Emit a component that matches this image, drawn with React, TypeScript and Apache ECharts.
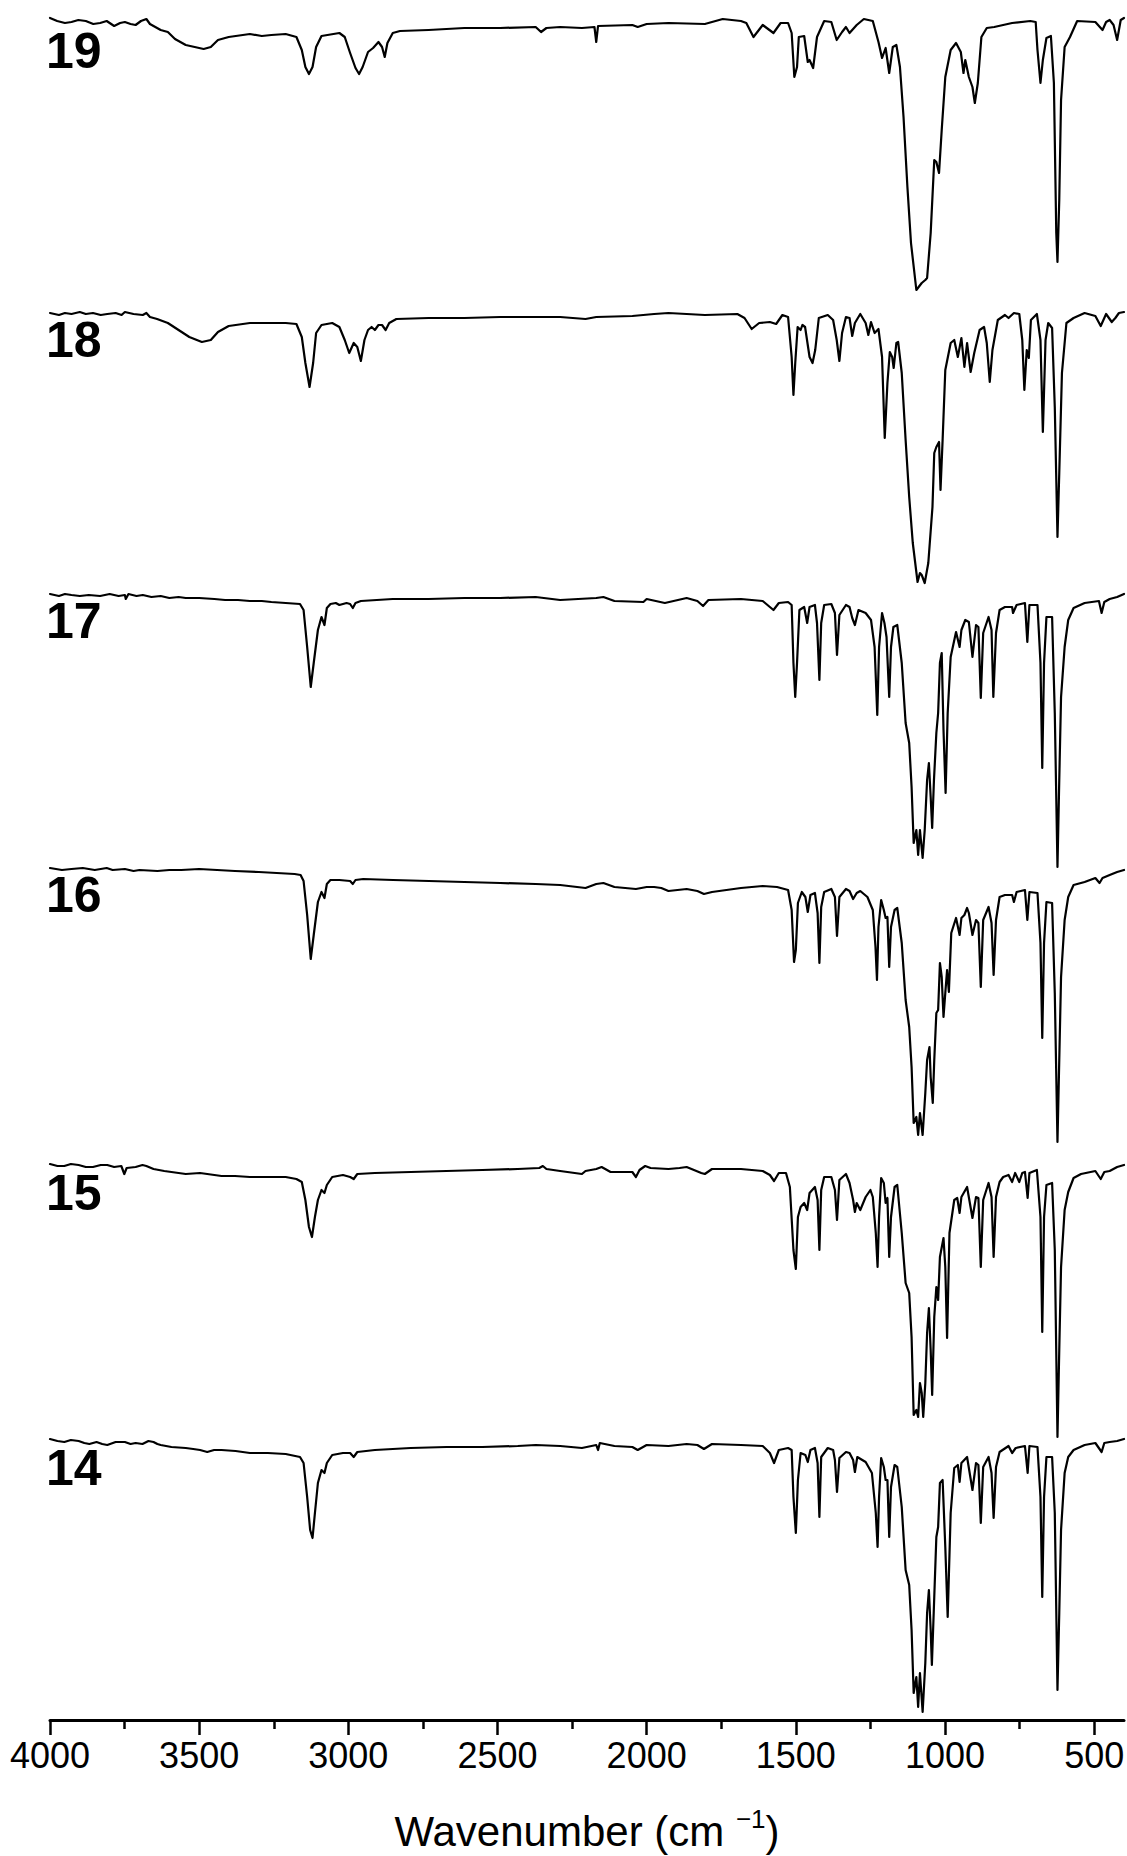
import React, { useEffect, useRef } from 'react';
import * as echarts from 'echarts';

// IR spectra (arbitrary transmittance units, baseline ~280)
const spectrumLabels = ['19', '18', '17', '16', '15', '14'];
const offsets = [1420, 1130, 840, 560, 270, -10];

const s19: [number, number][] = [
  [4000,282],[3976,279],[3950,277],[3928,278],[3905,280],[3880,279],[3855,276],[3832,277],[3810,279],[3785,274],[3765,277],[3749,278],[3730,276],[3713,275],[3695,279],[3677,281],[3665,276],[3653,274],[3629,270],[3605,268],[3581,261],[3545,255],[3515,253],[3485,251],[3461,253],[3437,260],[3401,263],[3330,266],[3290,264],[3258,265],[3210,266],[3174,263],[3156,250],[3144,233],[3132,226],[3120,233],[3108,253],[3090,264],[3030,267],[3012,263],[2994,247],[2976,232],[2964,226],[2952,233],[2934,248],[2917,252],[2899,258],[2887,253],[2878,243],[2869,257],[2851,267],[2827,269],[2731,270],[2611,272],[2491,272],[2372,273],[2354,268],[2336,272],[2290,273],[2217,272],[2175,273],[2169,258],[2163,274],[2048,275],[2030,273],[2000,276],[1927,277],[1805,276],[1769,279],[1745,281],[1684,279],[1666,277],[1642,263],[1611,275],[1575,267],[1551,277],[1526,277],[1514,267],[1505,223],[1496,233],[1490,263],[1472,264],[1460,238],[1454,240],[1442,232],[1429,263],[1405,279],[1381,278],[1363,260],[1345,268],[1332,273],[1320,267],[1296,275],[1272,281],[1242,279],[1223,258],[1211,242],[1199,252],[1187,227],[1175,253],[1163,255],[1151,233],[1139,183],[1126,113],[1114,57],[1096,10],[1078,17],[1066,20],[1060,22],[1048,67],[1036,140],[1029,138],[1020,127],[1011,170],[999,223],[981,250],[963,257],[947,248],[938,227],[932,240],[920,223],[908,213],[900,197],[890,217],[878,263],[860,272],[835,273],[775,277],[714,279],[696,278],[690,250],[680,217],[672,240],[660,262],[645,264],[635,217],[627,67],[623,38],[617,100],[611,200],[599,253],[581,263],[557,279],[496,278],[472,270],[460,278],[448,280],[435,275],[423,260],[411,280],[400,282]
];

const s18: [number, number][] = [
  [4000,277],[3970,275],[3950,277],[3928,276],[3900,278],[3880,276],[3856,277],[3830,275],[3808,276],[3780,277],[3760,275],[3749,278],[3720,276],[3689,275],[3677,277],[3665,273],[3641,271],[3605,267],[3569,260],[3533,253],[3491,248],[3461,250],[3437,258],[3401,264],[3330,267],[3258,267],[3210,267],[3174,266],[3156,253],[3144,227],[3130,203],[3118,227],[3108,257],[3090,265],[3054,267],[3030,263],[3012,250],[2997,237],[2982,247],[2970,243],[2958,229],[2946,250],[2934,260],[2922,263],[2911,260],[2899,265],[2887,265],[2875,260],[2863,267],[2839,271],[2731,272],[2611,272],[2491,273],[2372,273],[2290,273],[2205,271],[2169,273],[2048,274],[1975,276],[1927,277],[1805,275],[1696,276],[1672,272],[1648,261],[1623,267],[1587,268],[1566,266],[1545,275],[1526,273],[1514,233],[1508,195],[1502,227],[1494,263],[1484,260],[1478,265],[1469,263],[1454,233],[1444,227],[1435,240],[1423,272],[1393,275],[1375,270],[1363,250],[1354,229],[1345,257],[1332,273],[1320,272],[1311,254],[1302,267],[1284,276],[1266,267],[1257,255],[1248,268],[1236,257],[1223,261],[1211,233],[1202,152],[1193,207],[1185,238],[1177,233],[1172,222],[1163,247],[1157,248],[1145,217],[1132,150],[1120,93],[1108,47],[1092,8],[1084,17],[1078,15],[1068,7],[1056,27],[1042,83],[1036,137],[1029,143],[1020,148],[1015,100],[1008,150],[999,220],[981,247],[969,250],[957,233],[945,252],[935,223],[926,247],[914,218],[902,237],[884,260],[869,263],[860,247],[850,208],[841,240],[823,270],[799,275],[787,272],[769,277],[751,276],[741,250],[734,200],[726,240],[719,232],[712,270],[692,276],[680,250],[672,158],[663,250],[654,267],[641,262],[632,183],[623,53],[617,117],[608,217],[593,267],[569,272],[532,277],[496,274],[478,264],[460,276],[441,268],[429,272],[417,277],[400,278]
];

const s17: [number, number][] = [
  [4000,286],[3970,284],[3950,286],[3928,285],[3900,284],[3870,285],[3832,284],[3800,286],[3770,284],[3749,285],[3746,281],[3737,286],[3710,284],[3689,285],[3660,283],[3629,284],[3600,282],[3569,283],[3545,282],[3500,282],[3449,281],[3413,280],[3370,280],[3330,279],[3290,279],[3258,278],[3210,277],[3162,276],[3150,270],[3138,233],[3126,193],[3116,217],[3102,250],[3090,263],[3080,255],[3072,272],[3060,276],[3042,277],[3030,275],[3006,277],[2994,276],[2985,272],[2976,277],[2958,279],[2851,281],[2731,281],[2611,282],[2491,282],[2372,283],[2290,280],[2169,282],[2145,283],[2108,279],[2011,278],[2000,281],[1939,277],[1866,282],[1830,279],[1811,274],[1793,280],[1684,281],[1611,279],[1575,270],[1557,277],[1526,278],[1514,275],[1508,217],[1502,183],[1496,217],[1488,270],[1472,273],[1462,257],[1454,273],[1436,275],[1429,257],[1421,200],[1415,257],[1405,275],[1381,276],[1369,267],[1362,225],[1354,265],[1332,275],[1320,273],[1311,262],[1302,255],[1290,270],[1266,267],[1248,260],[1236,233],[1227,165],[1221,233],[1211,267],[1203,257],[1196,243],[1187,183],[1181,233],[1173,253],[1160,255],[1145,217],[1132,157],[1120,137],[1112,93],[1105,37],[1096,50],[1090,25],[1084,50],[1075,22],[1068,50],[1060,100],[1054,117],[1048,83],[1043,52],[1037,100],[1029,147],[1023,167],[1017,217],[1011,227],[1005,150],[998,87],[991,167],[981,223],[963,248],[951,233],[945,250],[932,260],[920,258],[908,223],[896,255],[888,253],[880,182],[872,247],[854,263],[844,250],[838,183],[829,247],[817,270],[799,273],[775,273],[772,267],[760,275],[732,277],[724,238],[717,275],[690,275],[680,217],[674,112],[668,217],[660,263],[641,263],[632,167],[623,13],[617,100],[611,183],[599,233],[587,260],[569,272],[532,277],[484,279],[475,267],[466,278],[448,281],[423,283],[400,286]
];

const s16: [number, number][] = [
  [4000,292],[3960,290],[3928,291],[3890,292],[3850,290],[3810,292],[3790,290],[3749,291],[3720,289],[3700,290],[3640,289],[3600,290],[3560,290],[3500,291],[3440,290],[3380,289],[3300,288],[3240,287],[3180,286],[3160,285],[3150,279],[3138,245],[3126,201],[3116,225],[3102,258],[3090,268],[3080,262],[3072,276],[3060,280],[3030,280],[2994,279],[2985,276],[2976,280],[2950,281],[2850,280],[2730,279],[2611,278],[2491,277],[2372,276],[2290,275],[2205,272],[2169,276],[2145,277],[2108,273],[2036,271],[2000,273],[1975,273],[1951,272],[1927,269],[1866,271],[1830,269],[1808,266],[1781,268],[1684,272],[1611,274],[1563,273],[1526,270],[1514,250],[1506,198],[1500,210],[1493,257],[1480,268],[1468,263],[1460,248],[1451,265],[1436,267],[1427,247],[1421,197],[1415,253],[1405,268],[1381,271],[1369,263],[1362,224],[1354,263],[1332,271],[1320,269],[1308,261],[1296,267],[1284,269],[1260,263],[1242,250],[1233,213],[1228,180],[1223,233],[1214,260],[1205,250],[1199,242],[1193,243],[1187,193],[1181,233],[1169,250],[1160,252],[1145,217],[1132,160],[1120,133],[1112,93],[1105,37],[1096,43],[1090,25],[1084,47],[1075,25],[1066,67],[1060,100],[1052,113],[1048,83],[1041,57],[1036,100],[1029,147],[1023,150],[1017,197],[1011,183],[1005,143],[999,167],[993,190],[987,168],[979,227],[963,242],[951,225],[945,242],[935,245],[926,252],[920,247],[908,225],[896,240],[888,237],[880,173],[872,240],[854,253],[844,237],[837,185],[829,240],[817,263],[799,265],[775,265],[769,258],[760,268],[732,270],[724,240],[717,268],[690,267],[680,217],[674,122],[668,217],[660,258],[641,257],[632,167],[623,18],[617,100],[611,183],[599,240],[587,263],[569,275],[532,278],[496,282],[482,277],[472,282],[448,285],[423,288],[400,290]
];

const s15: [number, number][] = [
  [4000,286],[3975,284],[3952,284],[3930,286],[3904,285],[3880,283],[3856,283],[3830,285],[3808,285],[3785,283],[3761,284],[3751,276],[3743,282],[3713,283],[3690,285],[3677,284],[3653,281],[3617,279],[3569,277],[3545,276],[3497,277],[3449,275],[3425,274],[3380,274],[3330,273],[3258,273],[3210,273],[3174,271],[3156,268],[3144,250],[3132,223],[3122,213],[3112,233],[3102,250],[3090,260],[3080,257],[3072,265],[3054,273],[3018,275],[2994,273],[2982,271],[2970,276],[2911,277],[2791,278],[2671,279],[2551,280],[2432,281],[2360,282],[2348,284],[2336,281],[2290,279],[2217,276],[2205,279],[2169,281],[2151,283],[2121,278],[2048,278],[2036,273],[2024,280],[2005,284],[1987,282],[1927,281],[1890,282],[1866,283],[1817,277],[1805,276],[1781,281],[1684,281],[1611,279],[1587,275],[1573,269],[1557,277],[1533,277],[1520,263],[1508,200],[1500,181],[1493,233],[1484,243],[1472,247],[1462,240],[1454,257],[1436,263],[1427,250],[1421,200],[1415,260],[1405,273],[1381,273],[1369,260],[1362,230],[1354,270],[1332,276],[1320,267],[1308,250],[1302,238],[1296,247],[1284,240],[1266,253],[1250,260],[1242,253],[1232,217],[1226,183],[1221,233],[1214,272],[1205,267],[1199,247],[1193,252],[1187,193],[1181,233],[1169,263],[1160,265],[1145,217],[1132,167],[1120,157],[1112,113],[1105,35],[1096,40],[1090,33],[1084,67],[1078,57],[1073,33],[1066,67],[1060,117],[1054,142],[1048,100],[1043,55],[1036,133],[1029,163],[1023,150],[1017,193],[1005,212],[999,183],[993,112],[985,217],[969,250],[959,252],[951,237],[945,253],[926,263],[908,232],[896,253],[888,252],[880,183],[872,250],[854,267],[844,253],[837,193],[829,253],[817,268],[805,273],[787,275],[775,268],[765,277],[751,268],[741,277],[732,278],[723,252],[717,277],[692,280],[680,233],[674,118],[668,233],[660,265],[641,267],[632,200],[623,13],[617,100],[611,183],[599,240],[587,258],[569,272],[544,276],[496,279],[478,271],[466,278],[448,279],[423,283],[400,285]
];

const s14: [number, number][] = [
  [4000,291],[3975,289],[3952,288],[3930,290],[3904,289],[3885,287],[3868,286],[3844,288],[3825,286],[3808,285],[3780,288],[3749,288],[3730,286],[3713,287],[3690,286],[3670,289],[3653,288],[3640,286],[3629,285],[3593,283],[3545,282],[3520,281],[3497,280],[3473,278],[3450,280],[3425,280],[3378,279],[3330,277],[3270,277],[3210,276],[3162,273],[3150,267],[3138,233],[3128,200],[3120,192],[3112,217],[3102,247],[3090,260],[3080,257],[3072,267],[3054,275],[3018,277],[2994,277],[2982,273],[2970,278],[2911,280],[2791,282],[2671,283],[2551,283],[2432,284],[2372,285],[2290,284],[2217,282],[2169,285],[2163,280],[2157,287],[2108,284],[2048,283],[2030,280],[2000,285],[1927,284],[1866,286],[1830,285],[1808,281],[1781,286],[1684,285],[1611,284],[1587,277],[1573,267],[1557,280],[1526,282],[1514,280],[1508,233],[1500,197],[1493,250],[1484,277],[1468,275],[1460,268],[1451,280],[1436,282],[1427,267],[1421,213],[1415,273],[1393,282],[1375,280],[1369,270],[1362,238],[1354,272],[1332,278],[1320,277],[1308,270],[1302,258],[1294,273],[1266,268],[1245,257],[1232,217],[1226,183],[1221,233],[1214,272],[1205,263],[1199,250],[1193,250],[1187,193],[1181,243],[1169,265],[1160,263],[1145,223],[1132,160],[1120,145],[1112,100],[1105,37],[1096,53],[1090,23],[1084,57],[1075,18],[1066,67],[1060,117],[1054,140],[1048,100],[1044,65],[1036,133],[1029,193],[1023,203],[1017,247],[1008,250],[999,183],[991,113],[981,217],[969,262],[957,265],[951,248],[945,267],[926,273],[908,240],[896,267],[888,265],[880,207],[872,263],[854,273],[844,257],[837,212],[829,263],[817,278],[787,284],[775,277],[763,282],[732,284],[723,257],[717,284],[690,283],[680,233],[674,133],[668,233],[660,273],[641,273],[632,217],[623,40],[617,117],[611,200],[599,257],[587,273],[569,280],[532,285],[496,287],[475,278],[466,287],[448,288],[423,289],[400,291]
];

const spectra = [s19, s18, s17, s16, s15, s14];
const majorTicks = [4000, 3500, 3000, 2500, 2000, 1500, 1000, 500];
const minorTicks = [3750, 3250, 2750, 2250, 1750, 1250, 750];
const labelCenters = [51, 340, 621, 895, 1193, 1468];

export default function App() {
  const ref = useRef<HTMLDivElement>(null);
  useEffect(() => {
    const chart = echarts.init(ref.current as HTMLDivElement, null, { renderer: 'svg' });
    const font = '"Liberation Sans", Arial, Helvetica, sans-serif';
    chart.setOption({
      animation: false,
      backgroundColor: '#ffffff',
      grid: { left: 50, right: 3, top: 0, bottom: 136, containLabel: false, outerBoundsMode: 'none' },
      xAxis: [
        {
          type: 'value', min: 400, max: 4000, inverse: true, position: 'bottom',
          axisLine: { show: true, lineStyle: { color: '#000', width: 3 } },
          axisTick: { show: true, customValues: majorTicks, length: 15, inside: false, lineStyle: { color: '#000', width: 2.5 } },
          axisLabel: {
            show: true, customValues: majorTicks, margin: 17, fontSize: 36, color: '#000', fontFamily: font,
            formatter: (v: number) => String(Math.round(v)),
          },
          splitLine: { show: false },
          name: '{a|Wavenumber (cm }{s|−1}{a|)}',
          nameLocation: 'middle',
          nameGap: 86,
          nameTextStyle: {
            fontFamily: font, color: '#000', fontSize: 42,
            rich: {
              a: { fontSize: 42, fontFamily: font, color: '#000', lineHeight: 50 },
              s: { fontSize: 26, fontFamily: font, color: '#000', lineHeight: 26, verticalAlign: 'top' },
            },
          },
        },
        {
          type: 'value', min: 400, max: 4000, inverse: true, position: 'bottom',
          axisLine: { show: false },
          axisTick: { show: true, customValues: minorTicks, length: 9, inside: false, lineStyle: { color: '#000', width: 2.5 } },
          axisLabel: { show: false },
          splitLine: { show: false },
        },
      ],
      yAxis: { type: 'value', min: 0, max: 1720, show: false, splitLine: { show: false } },
      series: spectra.map((s, i) => ({
        type: 'line',
        name: spectrumLabels[i],
        xAxisIndex: 0,
        data: s.map(([w, t]) => [w, t + offsets[i]]),
        showSymbol: false,
        symbol: 'none',
        lineStyle: { color: '#000', width: 2.2, join: 'round', cap: 'round' },
        clip: true,
      })),
      graphic: spectrumLabels.map((t, i) => ({
        type: 'text',
        x: 46,
        y: labelCenters[i],
        style: { text: t, fontSize: 50, fontWeight: 'bold', fontFamily: font, fill: '#000', align: 'left', verticalAlign: 'middle' },
      })),
    });
    return () => chart.dispose();
  }, []);
  return <div ref={ref} style={{ position: 'absolute', left: 0, top: 0, width: 1127, height: 1856 }} />;
}
